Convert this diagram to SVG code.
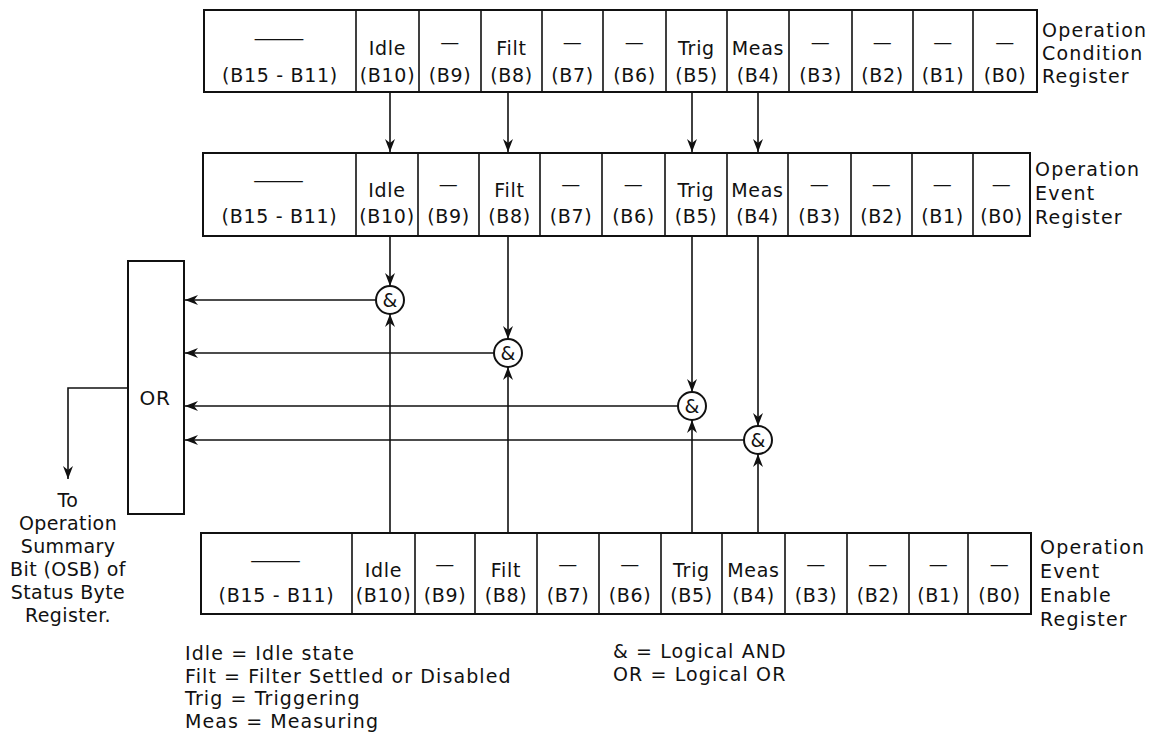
<svg xmlns="http://www.w3.org/2000/svg" width="1152" height="744" viewBox="0 0 1152 744">
<defs>
<style>
.t{font-family:"DejaVu Sans","Open Sans",sans-serif;font-size:19px;letter-spacing:0.7px;fill:#111}
.c{text-anchor:middle}
.lb{letter-spacing:1.2px}
.lg{letter-spacing:1.1px}
.box{fill:#fff;stroke:#111;stroke-width:2}
.dv{stroke:#111;stroke-width:1.6}
.w{fill:none;stroke:#111;stroke-width:1.6;marker-end:url(#ah)}
.g{fill:#fff;stroke:#111;stroke-width:2}
</style>
<marker id="ah" viewBox="-14 -6 15 12" refX="0" refY="0" markerWidth="15" markerHeight="12" markerUnits="userSpaceOnUse" orient="auto"><path d="M0,0 L-13,-5 L-9,0 L-13,5 Z" fill="#111"/></marker>
</defs>
<rect width="1152" height="744" fill="#fff"/>

<g id="connectors">
<path class="w" d="M390,92 V152"/>
<path class="w" d="M508,92 V152"/>
<path class="w" d="M692,92 V152"/>
<path class="w" d="M758,92 V152"/>
<path class="w" d="M390,236 V286"/>
<path class="w" d="M508,236 V339"/>
<path class="w" d="M692,236 V392"/>
<path class="w" d="M758,236 V426"/>
<path class="w" d="M390,533 V314"/>
<path class="w" d="M508,533 V367"/>
<path class="w" d="M692,533 V420"/>
<path class="w" d="M758,533 V454"/>
<path class="w" d="M376,300 H185"/>
<path class="w" d="M494,353 H185"/>
<path class="w" d="M678,406 H185"/>
<path class="w" d="M744,440 H185"/>
<path class="w" d="M128,388 H68 V479"/>
</g>

<g id="cond-reg">
<rect class="box" x="204" y="10" width="833" height="82"/>
<path class="dv" d="M356,10V92M419,10V92M481,10V92M542,10V92M603,10V92M666,10V92M727,10V92M789,10V92M852,10V92M913,10V92M973,10V92"/>
<text class="t c" x="280" y="45" textLength="56" lengthAdjust="spacingAndGlyphs">—</text>
<text class="t c" x="280" y="82">(B15 - B11)</text>
<text class="t c" x="387.5" y="55">Idle</text><text class="t c" x="387.5" y="82">(B10)</text>
<text class="t c" x="450" y="49">—</text><text class="t c" x="450" y="82">(B9)</text>
<text class="t c" x="511.5" y="55">Filt</text><text class="t c" x="511.5" y="82">(B8)</text>
<text class="t c" x="572.5" y="49">—</text><text class="t c" x="572.5" y="82">(B7)</text>
<text class="t c" x="634.5" y="49">—</text><text class="t c" x="634.5" y="82">(B6)</text>
<text class="t c" x="696.5" y="55">Trig</text><text class="t c" x="696.5" y="82">(B5)</text>
<text class="t c" x="758" y="55">Meas</text><text class="t c" x="758" y="82">(B4)</text>
<text class="t c" x="820.5" y="49">—</text><text class="t c" x="820.5" y="82">(B3)</text>
<text class="t c" x="882.5" y="49">—</text><text class="t c" x="882.5" y="82">(B2)</text>
<text class="t c" x="943" y="49">—</text><text class="t c" x="943" y="82">(B1)</text>
<text class="t c" x="1005" y="49">—</text><text class="t c" x="1005" y="82">(B0)</text>
</g>
<g id="cond-label">
<text class="t lb"><tspan x="1042" y="37">Operation</tspan><tspan x="1042" y="60">Condition</tspan><tspan x="1042" y="83">Register</tspan></text>
</g>

<g id="event-reg">
<rect class="box" x="203" y="153" width="827" height="83"/>
<path class="dv" d="M356,153V236M418,153V236M479,153V236M540,153V236M602,153V236M665,153V236M727,153V236M788,153V236M851,153V236M912,153V236M973,153V236"/>
<text class="t c" x="279.5" y="187" textLength="56" lengthAdjust="spacingAndGlyphs">—</text>
<text class="t c" x="279.5" y="223">(B15 - B11)</text>
<text class="t c" x="387" y="197">Idle</text><text class="t c" x="387" y="223">(B10)</text>
<text class="t c" x="448.5" y="191">—</text><text class="t c" x="448.5" y="223">(B9)</text>
<text class="t c" x="509.5" y="197">Filt</text><text class="t c" x="509.5" y="223">(B8)</text>
<text class="t c" x="571" y="191">—</text><text class="t c" x="571" y="223">(B7)</text>
<text class="t c" x="633.5" y="191">—</text><text class="t c" x="633.5" y="223">(B6)</text>
<text class="t c" x="696" y="197">Trig</text><text class="t c" x="696" y="223">(B5)</text>
<text class="t c" x="757.5" y="197">Meas</text><text class="t c" x="757.5" y="223">(B4)</text>
<text class="t c" x="819.5" y="191">—</text><text class="t c" x="819.5" y="223">(B3)</text>
<text class="t c" x="881.5" y="191">—</text><text class="t c" x="881.5" y="223">(B2)</text>
<text class="t c" x="942.5" y="191">—</text><text class="t c" x="942.5" y="223">(B1)</text>
<text class="t c" x="1001.5" y="191">—</text><text class="t c" x="1001.5" y="223">(B0)</text>
</g>
<g id="event-label">
<text class="t lb"><tspan x="1035" y="176">Operation</tspan><tspan x="1035" y="200">Event</tspan><tspan x="1035" y="224">Register</tspan></text>
</g>

<g id="enable-reg">
<rect class="box" x="201" y="533" width="830" height="81"/>
<path class="dv" d="M352,533V614M415,533V614M475,533V614M537,533V614M599,533V614M661,533V614M722,533V614M785,533V614M847,533V614M909,533V614M968,533V614"/>
<text class="t c" x="276.5" y="567" textLength="56" lengthAdjust="spacingAndGlyphs">—</text>
<text class="t c" x="276.5" y="602">(B15 - B11)</text>
<text class="t c" x="383.5" y="577">Idle</text><text class="t c" x="383.5" y="602">(B10)</text>
<text class="t c" x="445" y="571">—</text><text class="t c" x="445" y="602">(B9)</text>
<text class="t c" x="506" y="577">Filt</text><text class="t c" x="506" y="602">(B8)</text>
<text class="t c" x="568" y="571">—</text><text class="t c" x="568" y="602">(B7)</text>
<text class="t c" x="630" y="571">—</text><text class="t c" x="630" y="602">(B6)</text>
<text class="t c" x="691.5" y="577">Trig</text><text class="t c" x="691.5" y="602">(B5)</text>
<text class="t c" x="753.5" y="577">Meas</text><text class="t c" x="753.5" y="602">(B4)</text>
<text class="t c" x="816" y="571">—</text><text class="t c" x="816" y="602">(B3)</text>
<text class="t c" x="878" y="571">—</text><text class="t c" x="878" y="602">(B2)</text>
<text class="t c" x="938.5" y="571">—</text><text class="t c" x="938.5" y="602">(B1)</text>
<text class="t c" x="999.5" y="571">—</text><text class="t c" x="999.5" y="602">(B0)</text>
</g>
<g id="enable-label">
<text class="t lb"><tspan x="1040" y="554">Operation</tspan><tspan x="1040" y="578">Event</tspan><tspan x="1040" y="602">Enable</tspan><tspan x="1040" y="626">Register</tspan></text>
</g>

<g id="and-idle"><circle class="g" cx="390" cy="300" r="14"/><text class="t c" x="390" y="307" style="letter-spacing:0">&amp;</text></g>
<g id="and-filt"><circle class="g" cx="508" cy="353" r="14"/><text class="t c" x="508" y="360" style="letter-spacing:0">&amp;</text></g>
<g id="and-trig"><circle class="g" cx="692" cy="406" r="14"/><text class="t c" x="692" y="413" style="letter-spacing:0">&amp;</text></g>
<g id="and-meas"><circle class="g" cx="758" cy="440" r="14"/><text class="t c" x="758" y="447" style="letter-spacing:0">&amp;</text></g>

<g id="or-gate">
<rect class="box" x="128" y="261" width="56" height="253"/>
<text class="t c" x="155" y="405" style="font-size:20px">OR</text>
</g>

<g id="osb-label">
<text class="t c" style="letter-spacing:0.4px"><tspan x="68" y="507">To</tspan><tspan x="68" y="530">Operation</tspan><tspan x="68" y="553">Summary</tspan><tspan x="68" y="576">Bit (OSB) of</tspan><tspan x="68" y="599">Status Byte</tspan><tspan x="68" y="622">Register.</tspan></text>
</g>

<g id="legend">
<text class="t lg"><tspan x="185" y="660">Idle = Idle state</tspan><tspan x="185" y="682.5">Filt = Filter Settled or Disabled</tspan><tspan x="185" y="705">Trig = Triggering</tspan><tspan x="185" y="727.5">Meas = Measuring</tspan></text>
<text class="t lg"><tspan x="613" y="658">&amp; = Logical AND</tspan><tspan x="613" y="680.5">OR = Logical OR</tspan></text>
</g>
</svg>
